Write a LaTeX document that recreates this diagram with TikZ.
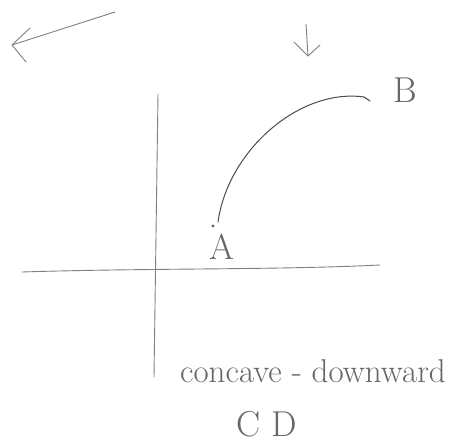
\documentclass[tikz,border=0pt]{standalone}
\begin{document}
\begin{tikzpicture}[x=1pt,y=-1pt,
  stroke/.style={draw=black!50, line width=0.9pt, line cap=round, line join=round},
  hand/.style={text=black!60, font=\fontsize{36}{40}\selectfont, inner sep=0pt, anchor=base west}]
\useasboundingbox[fill=white] (0,0) rectangle (461,443);
% left arrow
\coordinate (l1) at (115,12);
\coordinate (l2) at (12,45);
\coordinate (l3) at (30,28);
\coordinate (l4) at (26,62);
\draw[stroke] (l1) -- (l2);
\draw[stroke] (l3) -- (l2) -- (l4);
% down arrow
\coordinate (d1) at (306,24);
\coordinate (d2) at (308,56);
\coordinate (d3) at (294,42);
\coordinate (d4) at (320,45);
\draw[stroke] (d1) -- (d2);
\draw[stroke] (d3) -- (d2) -- (d4);
% axes
\coordinate (vt) at (158,94);
\coordinate (vb) at (154,377);
\coordinate (hl) at (22,272);
\coordinate (hr) at (380,265);
\draw[stroke] (vt) -- (vb);
\draw[stroke] (hl) .. controls (150,268) and (280,270) .. (hr);
% curve
\coordinate (ca) at (218,222);
\coordinate (cb) at (364,97);
\coordinate (cc) at (370,101);
\draw[draw=black!70, line width=1pt, line cap=round] (ca) .. controls (228,150) and (300,88) .. (cb) -- (cc);
\fill[black!60] (213,226) circle (1.6);
% labels
\node[hand] (A) at (209,260) {A};
\node[hand] (B) at (393,103) {B};
\node[hand, font=\fontsize{33}{38}\selectfont] (t) at (180,383) {concave - downward};
\node[hand] (cd) at (236,437) {C\hspace{0.3em}D};
\end{tikzpicture}
\end{document}
